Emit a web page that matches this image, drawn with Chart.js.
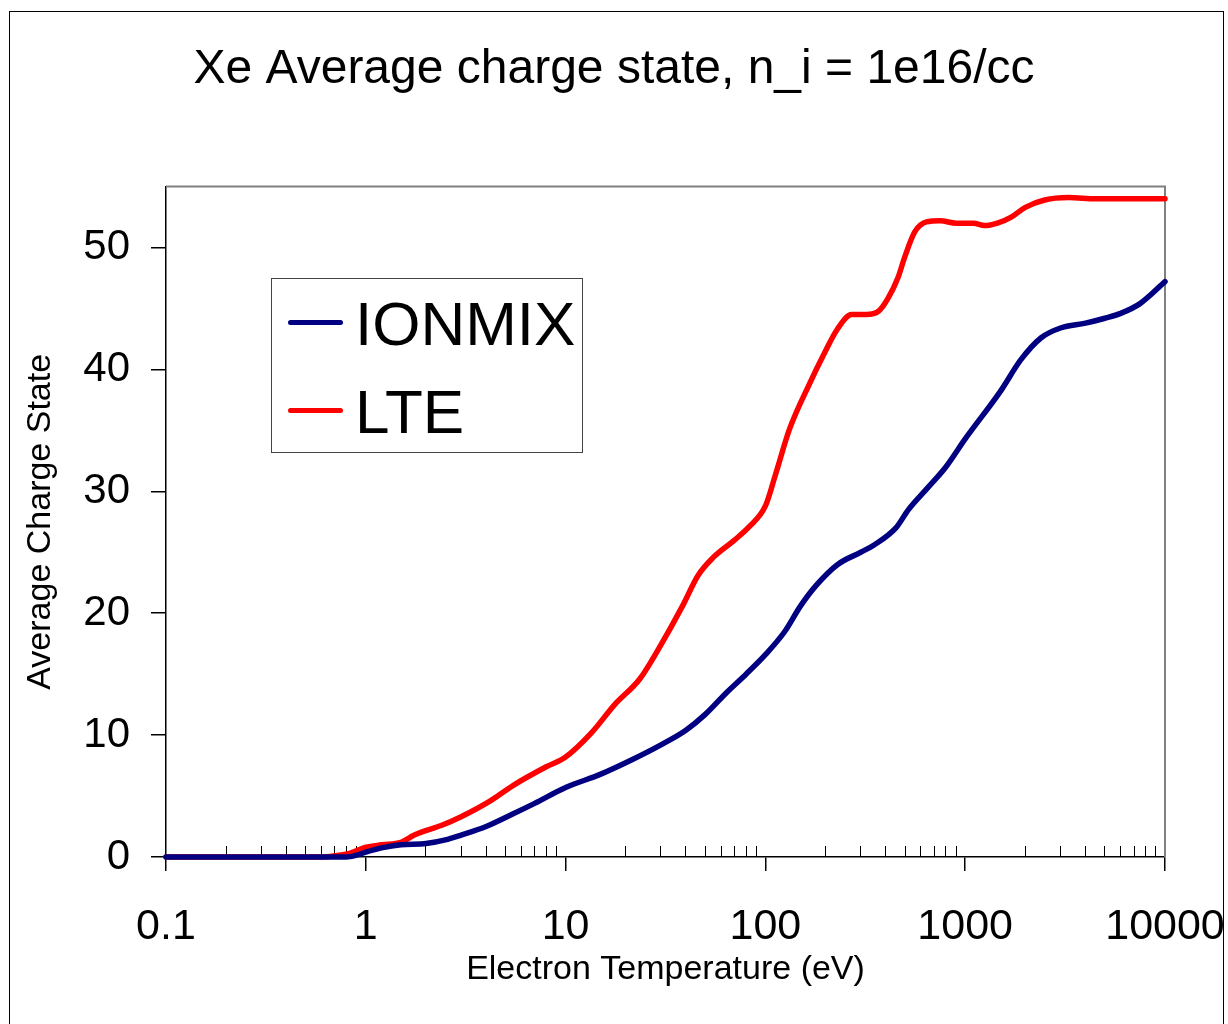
<!DOCTYPE html>
<html>
<head>
<meta charset="utf-8">
<title>Xe Average charge state</title>
<script src="https://cdn.jsdelivr.net/npm/chart.js@4.4.1/dist/chart.umd.min.js"></script>
<style>
    body { margin: 0; background: #fff; }
    #wrap { position: relative; width: 1228px; height: 1024px; overflow: hidden; }
    #frame { position: absolute; left: 9px; top: 11px; width: 1215px; height: 1100px; border: 1.5px solid #000; box-sizing: border-box; }
    #chart { position: absolute; left: 0; top: 0; }
    #legend { position: absolute; left: 271px; top: 278px; width: 312px; height: 175px; border: 1.5px solid #444; box-sizing: border-box; background: #fff; }
    .swatch { position: absolute; left: 16px; width: 55px; height: 5px; border-radius: 3px; }
    .label { position: absolute; left: 83px; font-family: Arial, "Liberation Sans", sans-serif; font-size: 62px; line-height: 62px; color: #000; white-space: nowrap; }
</style>
</head>
<body>
<div id="wrap">
    <div id="frame"></div>
    <canvas id="chart" width="1228" height="1024"></canvas>
    <div id="legend"></div>
</div>
<script>
var FONT = 'Arial, "Liberation Sans", sans-serif';

// electron temperature (eV) and average charge state
var tempIonmix = [0.1, 0.3, 0.6, 0.8, 0.9, 1.0, 1.2, 1.5, 2.0, 2.5, 3.0, 4.0, 5.4, 7.0, 10, 15, 21.6, 30, 40, 50, 64, 80, 100, 125, 150, 180, 230, 300, 350, 450, 520, 650, 800, 1000, 1500, 1900, 2400, 3000, 4000, 5000, 6000, 7500, 10000];
var zIonmix = [0, 0, 0, 0, 0.15, 0.4, 0.75, 1.0, 1.1, 1.4, 1.8, 2.5, 3.5, 4.4, 5.7, 6.8, 8.0, 9.2, 10.4, 11.7, 13.5, 15.0, 16.6, 18.5, 20.6, 22.3, 24.0, 25.0, 25.6, 27.0, 28.5, 30.3, 32.0, 34.3, 38.2, 40.8, 42.6, 43.4, 43.8, 44.2, 44.6, 45.4, 47.2];

var tempLte = [0.1, 0.3, 0.6, 0.7, 0.83, 1.0, 1.2, 1.5, 1.75, 2.4, 3.0, 4.2, 5.5, 8.0, 10, 13.5, 17.6, 23.5, 29.5, 38.5, 46, 55, 70, 83, 100, 112, 132, 166, 197, 229, 270, 320, 370, 410, 460, 500, 560, 640, 750, 900, 1100, 1250, 1450, 1700, 2000, 2500, 3300, 4500, 10000];
var zLte = [0, 0, 0, 0.1, 0.3, 0.8, 1.0, 1.2, 1.8, 2.6, 3.3, 4.6, 5.9, 7.4, 8.2, 10.2, 12.5, 14.6, 17.2, 20.6, 23.1, 24.6, 26.0, 27.1, 28.8, 31.3, 35.1, 38.8, 41.3, 43.3, 44.5, 44.5, 44.8, 45.8, 47.5, 49.3, 51.3, 52.1, 52.2, 52.0, 52.0, 51.8, 52.0, 52.5, 53.3, 53.9, 54.1, 54.0, 54.0];

var xMajorTicks = [0.1, 1, 10, 100, 1000, 10000];
var xMinorTicks = [];
for (var d = 0; d < xMajorTicks.length - 1; d++) {
    for (var m = 2; m <= 9; m++) {
        xMinorTicks.push(xMajorTicks[d] * m);
    }
}
var yTicks = [0, 10, 20, 30, 40, 50];

function toPoints(xs, ys) {
    var pts = [];
    for (var i = 0; i < xs.length; i++) {
        pts.push({ x: xs[i], y: ys[i] });
    }
    return pts;
}

// gray frame on top and right of the plot area
var plotFrame = {
    id: 'plotFrame',
    beforeDatasetsDraw: function (chart) {
        var a = chart.chartArea;
        var c = chart.ctx;
        c.save();
        c.strokeStyle = '#808080';
        c.lineWidth = 2;
        c.beginPath();
        c.moveTo(a.left, a.top);
        c.lineTo(a.right, a.top);
        c.lineTo(a.right, a.bottom);
        c.stroke();
        c.restore();
    }
};

var chart = new Chart(document.getElementById('chart').getContext('2d'), {
    type: 'line',
    data: {
        datasets: [{
            label: 'IONMIX',
            data: toPoints(tempIonmix, zIonmix),
            borderColor: '#000080',
            backgroundColor: '#000080',
            borderWidth: 5.5,
            pointRadius: 0,
            cubicInterpolationMode: 'monotone',
            borderCapStyle: 'round',
            borderJoinStyle: 'round',
            fill: false,
            clip: 8
        }, {
            label: 'LTE',
            data: toPoints(tempLte, zLte),
            borderColor: '#ff0000',
            backgroundColor: '#ff0000',
            borderWidth: 5.5,
            pointRadius: 0,
            cubicInterpolationMode: 'monotone',
            borderCapStyle: 'round',
            borderJoinStyle: 'round',
            fill: false,
            clip: 8
        }]
    },
    options: {
        responsive: false,
        animation: false,
        events: [],
        layout: { padding: 0 },
        plugins: {
            legend: { display: false },
            tooltip: { enabled: false },
            title: {
                display: true,
                text: 'Xe Average charge state, n_i = 1e16/cc',
                color: '#000',
                font: { family: FONT, size: 48, weight: 'normal' },
                padding: { top: 41, bottom: 88 }
            }
        },
        scales: {
            x: {
                type: 'logarithmic',
                position: 'bottom',
                min: 0.1,
                max: 10000,
                weight: 1,
                afterBuildTicks: function (s) {
                    s.ticks = xMajorTicks.map(function (v) { return { value: v }; });
                },
                afterFit: function (s) {
                    s.height = 167;
                    s.paddingLeft = 0;
                    s.paddingRight = 63;
                },
                ticks: {
                    color: '#000',
                    font: { family: FONT, size: 43 },
                    padding: 30,
                    autoSkip: false,
                    maxRotation: 0,
                    callback: function (v) { return String(v); }
                },
                grid: { drawOnChartArea: false, tickLength: 14, color: '#000', tickColor: '#000', lineWidth: 1.5 },
                border: { display: true, color: '#000', width: 1.5 },
                title: {
                    display: true,
                    text: 'Electron Temperature (eV)',
                    color: '#000',
                    font: { family: FONT, size: 34 },
                    padding: { top: 0, bottom: 34 }
                }
            },
            xMinor: {
                type: 'logarithmic',
                position: 'bottom',
                min: 0.1,
                max: 10000,
                weight: 0,
                afterBuildTicks: function (s) {
                    s.ticks = xMinorTicks.map(function (v) { return { value: v }; });
                },
                afterFit: function (s) {
                    s.height = 0;
                    s.paddingLeft = 0;
                    s.paddingRight = 0;
                },
                ticks: { display: false },
                grid: { drawOnChartArea: false, tickLength: -11, color: '#000', tickColor: '#000', lineWidth: 1 },
                border: { display: false }
            },
            y: {
                type: 'linear',
                min: 0,
                max: 55,
                afterBuildTicks: function (s) {
                    s.ticks = yTicks.map(function (v) { return { value: v }; });
                },
                afterFit: function (s) { s.width = 166; },
                ticks: {
                    color: '#000',
                    font: { family: FONT, size: 42 },
                    padding: 21
                },
                grid: { drawOnChartArea: false, tickLength: 15, color: '#000', tickColor: '#000', lineWidth: 1.5 },
                border: { display: true, color: '#000', width: 1.5 },
                title: {
                    display: true,
                    text: 'Average Charge State',
                    color: '#000',
                    font: { family: FONT, size: 34 },
                    padding: { top: 20, bottom: 0 }
                }
            }
        }
    },
    plugins: [plotFrame]
});

// legend box inside the plot, built from the datasets
var legend = document.getElementById('legend');
var rowTops = [45, 133];
chart.data.datasets.forEach(function (ds, i) {
    var sw = document.createElement('div');
    sw.className = 'swatch';
    sw.style.top = (rowTops[i] - 4) + 'px';
    sw.style.background = ds.borderColor;
    legend.appendChild(sw);
    var lb = document.createElement('span');
    lb.className = 'label';
    lb.style.top = (rowTops[i] - 31) + 'px';
    lb.textContent = ds.label;
    legend.appendChild(lb);
});
</script>
</body>
</html>
